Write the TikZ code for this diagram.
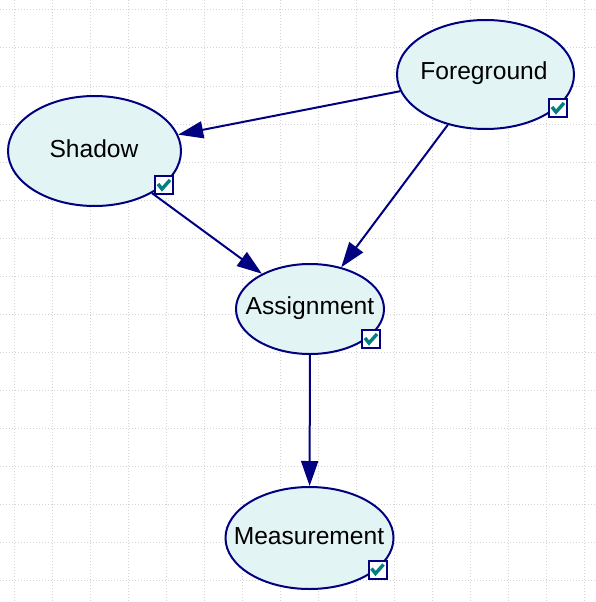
\documentclass[tikz,border=0pt]{standalone}
\usepackage{fontspec}
\setmainfont{Liberation Sans}
\usetikzlibrary{shapes.geometric,arrows.meta}
\definecolor{navy}{HTML}{000080}
\definecolor{nodefill}{HTML}{E3F4F4}
\definecolor{gridc}{HTML}{D4D4D4}
\definecolor{chkc}{HTML}{008080}
\begin{document}
\begin{tikzpicture}[x=1pt,y=-1pt,
  bnode/.style={ellipse,draw=navy,line width=2pt,fill=nodefill,inner sep=0pt},
  chkbox/.style={rectangle,draw=navy,line width=2pt,fill=white,minimum size=18pt,inner sep=0pt},
  edgearrow/.style={draw=navy,line width=2pt,-{Triangle[length=25pt,width=17pt]}},
  lbl/.style={font=\fontsize{24.6}{29}\selectfont,inner sep=0pt},
  tick/.style={draw=chkc,line width=3.4pt}
]
\useasboundingbox (0,0) rectangle (595,602);
\fill[white] (0,0) rectangle (595,602);
\foreach \x in {14,52,...,590} \draw[gridc,line width=1pt,dash pattern=on 1pt off 2pt] (\x,0) -- (\x,602);
\foreach \y in {10,48,...,600} \draw[gridc,line width=1pt,dash pattern=on 1pt off 2pt] (0,\y) -- (595,\y);

\node[bnode,minimum width=177pt,minimum height=109pt] (fg) at (485.5,74.5) {};
\node[bnode,minimum width=173pt,minimum height=110pt] (sh) at (94.5,151) {};
\node[bnode,minimum width=148pt,minimum height=90pt] (as) at (310,309) {};
\node[bnode,minimum width=168pt,minimum height=102pt] (me) at (309.5,538) {};

\node[lbl] (fgt) at (484,73) {Foreground};
\node[lbl] (sht) at (94,149) {Shadow};
\node[lbl] (ast) at (310,308) {Assignment};
\node[lbl] (met) at (309,536) {Measurement};

\node[chkbox] (fgc) at (558,108) {};
\node[chkbox] (shc) at (164,185) {};
\node[chkbox] (asc) at (371,339) {};
\node[chkbox] (mec) at (377.5,569.5) {};
\foreach \c in {fgc,shc,asc,mec}
  \draw[tick] (\c.center) ++(-6,-1) -- ++(4,5) -- ++(8,-9);

\draw[edgearrow] (fg) -- (sh);
\draw[edgearrow] (fg) -- (as);
\draw[edgearrow] (sh) -- (as);
\draw[edgearrow] (as) -- (me);
\end{tikzpicture}
\end{document}
